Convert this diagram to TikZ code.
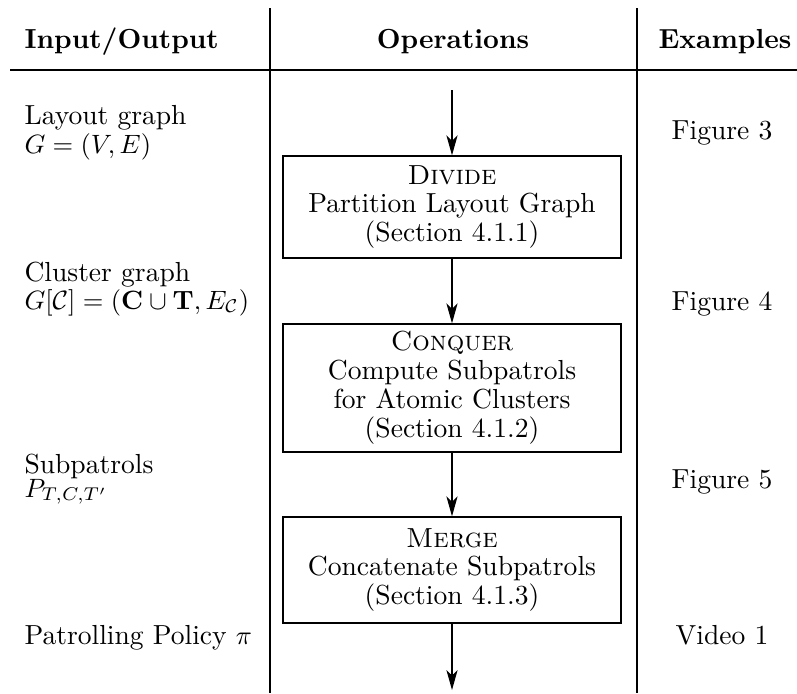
\documentclass[tikz,border=0pt]{standalone}
\usetikzlibrary{arrows.meta}
\begin{document}
\begin{tikzpicture}[
  x=0.3774pt, y=-0.3774pt,
  every node/.style={font=\fontsize{10.4}{10.9}\selectfont, inner sep=0pt},
  head/.style={font=\fontsize{10.4}{10.9}\selectfont\bfseries},
  opbox/.style={draw, line width=0.5pt, align=center, minimum width=127.6pt},
  flow/.style={line width=0.5pt, -{Stealth[length=7.5pt,width=4.2pt,inset=2pt]}},
  sep/.style={line width=0.55pt},
  rule/.style={line width=0.8pt}
]
\useasboundingbox (0,0) rectangle (797,693);

% column separators and header rule
\coordinate (v1t) at (270,8);   \coordinate (v1b) at (270,693);
\coordinate (v2t) at (637,8);   \coordinate (v2b) at (637,693);
\coordinate (rl) at (10,70);    \coordinate (rr) at (797,70);
\draw[sep] (v1t) -- (v1b);
\draw[sep] (v2t) -- (v2b);
\draw[rule] (rl) -- (rr);

% header
\node[head, anchor=base west] (hio) at (24,48) {Input/Output};
\node[head, anchor=base] (hop) at (453,48) {Operations};
\node[head, anchor=base] (hex) at (725,48) {Examples};

% input/output column
\node[anchor=base west] (lay1) at (24,124) {Layout graph};
\node[anchor=base west] (lay2) at (24,153) {$G=(V,E)$};
\node[anchor=base west] (clu1) at (24,281) {Cluster graph};
\node[anchor=base west] (clu2) at (24,309) {$G[\mathcal{C}]=(\mathbf{C}\cup\mathbf{T},E_{\mathcal{C}})$};
\node[anchor=base west] (sub1) at (24,473) {Subpatrols};
\node[anchor=base west] (sub2) at (24,497) {$P_{T,C,T'}$};
\node[anchor=base west] (pol) at (24,644) {Patrolling Policy $\pi$};

% examples column
\node[anchor=base] (ex1) at (722,139) {Figure 3};
\node[anchor=base] (ex2) at (722,310) {Figure 4};
\node[anchor=base] (ex3) at (722,488) {Figure 5};
\node[anchor=base] (ex4) at (722,644) {Video 1};

% operations column
\node[opbox, minimum height=38.5pt] (divide) at (452,207)
  {\textsc{Divide}\\Partition Layout Graph\\(Section 4.1.1)};
\node[opbox, minimum height=48.3pt] (conquer) at (452,388)
  {\textsc{Conquer}\\Compute Subpatrols\\for Atomic Clusters\\(Section 4.1.2)};
\node[opbox, minimum height=40pt] (merge) at (452,570)
  {\textsc{Merge}\\Concatenate Subpatrols\\(Section 4.1.3)};

\coordinate (start) at (452,90);
\coordinate (finish) at (452,690);
\draw[flow] (start) -- (divide.north);
\draw[flow] (divide.south) -- (conquer.north);
\draw[flow] (conquer.south) -- (merge.north);
\draw[flow] (merge.south) -- (finish);
\end{tikzpicture}
\end{document}
